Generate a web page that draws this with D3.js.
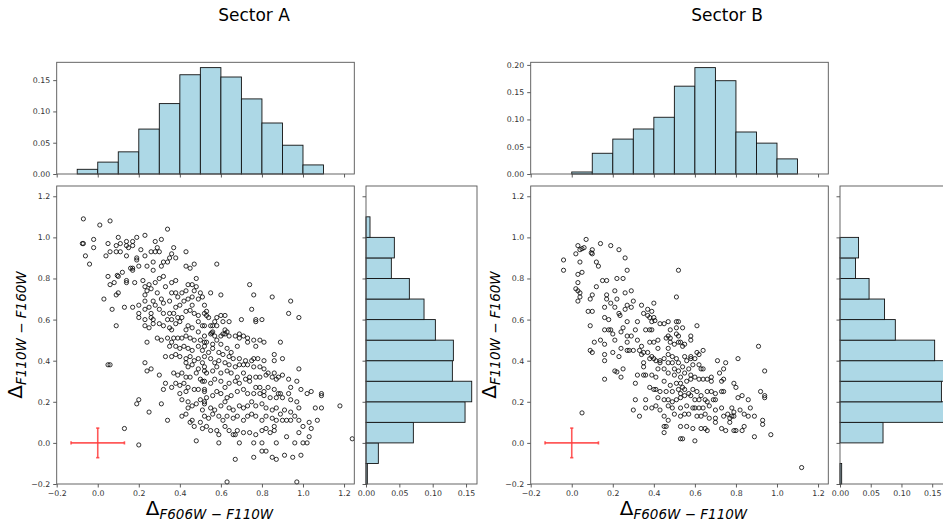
<!DOCTYPE html>
<html>
<head>
<meta charset="utf-8">
<script src="https://cdn.jsdelivr.net/npm/d3@7"></script>
<style>
  body { margin: 0; background: #fff; }
  svg { display: block; }
  text { font-family: "DejaVu Sans", sans-serif; }
</style>
</head>
<body>
<svg id="chart" width="943" height="523"></svg>
<script>
// ---- data ----
const sectorTitles = ["Sector A", "Sector B"];
const axisTicks = [-0.2, 0.0, 0.2, 0.4, 0.6, 0.8, 1.0, 1.2];
const histTicksA = [0.00, 0.05, 0.10, 0.15];
const histTicksB = [0.00, 0.05, 0.10, 0.15, 0.20];
const rightTicks = [0.00, 0.05, 0.10, 0.15];

// colour-difference histograms (fraction of stars per bin)
const topEdgesA = [-0.1, 0.0, 0.1, 0.2, 0.3, 0.4, 0.5, 0.6, 0.7, 0.8, 0.9, 1.0, 1.1];
const topFracA = [0.0075, 0.019, 0.0354, 0.0718, 0.1125, 0.1586, 0.170, 0.155, 0.120, 0.0815, 0.046, 0.0145];
const rightEdgesA = [-0.2, -0.1, 0.0, 0.1, 0.2, 0.3, 0.4, 0.5, 0.6, 0.7, 0.8, 0.9, 1.0, 1.1];
const rightFracA = [0.002, 0.0185, 0.071, 0.1485, 0.1585, 0.1295, 0.131, 0.104, 0.087, 0.065, 0.038, 0.0425, 0.006];

const topEdgesB = [0.0, 0.1, 0.2, 0.3, 0.4, 0.5, 0.6, 0.7, 0.8, 0.9, 1.0, 1.1];
const topFracB = [0.0037, 0.038, 0.064, 0.0825, 0.104, 0.161, 0.195, 0.171, 0.077, 0.0566, 0.0277];
const rightEdgesB = [-0.2, -0.1, 0.0, 0.1, 0.2, 0.3, 0.4, 0.5, 0.6, 0.7, 0.8, 0.9, 1.0];
const rightFracB = [0.0027, 0.0, 0.070, 0.170, 0.165, 0.172, 0.154, 0.090, 0.0725, 0.0473, 0.0253, 0.0302];

// typical measurement error (x, y) drawn at the origin
const errX = 0.13;
const errY = 0.072;

// stars: [Δ(F606W−F110W), Δ(F110W−F160W)]
const starsA = [
  [-0.07,1.09],[0.01,1.06],[0.06,1.08],[0.34,1.04],[-0.07,0.97],[-0.075,0.97],[-0.02,0.99],[-0.02,0.95],[-0.06,0.91],[-0.04,0.87],
  [0.05,0.97],[0.10,1.00],[0.09,0.96],[0.11,0.97],[0.14,0.98],[0.14,0.96],[0.17,0.98],[0.19,1.00],[0.23,1.01],[0.28,0.98],
  [0.31,0.99],[0.29,0.95],[0.21,0.94],[0.15,0.95],[0.17,0.96],[0.11,0.93],[0.09,0.93],[0.06,0.93],[0.04,0.91],[0.14,0.91],
  [0.19,0.90],[0.19,0.89],[0.23,0.91],[0.26,0.93],[0.28,0.93],[0.30,0.93],[0.36,0.92],[0.37,0.95],[0.38,0.90],[0.35,0.90],
  [0.32,0.88],[0.31,0.86],[0.34,0.88],[0.43,0.93],[0.47,0.87],[0.45,0.85],[0.43,0.86],[0.20,0.86],[0.17,0.85],[0.16,0.85],
  [0.24,0.86],[0.27,0.84],[0.27,0.88],[0.05,0.81],[0.10,0.81],[0.095,0.815],[0.12,0.83],[0.17,0.84],[0.14,0.79],[0.14,0.78],
  [0.18,0.78],[0.08,0.78],[0.06,0.77],[0.10,0.73],[0.09,0.72],[0.03,0.70],[0.07,0.65],[0.13,0.66],[0.17,0.66],[0.20,0.67],
  [0.20,0.63],[0.23,0.65],[0.23,0.69],[0.23,0.72],[0.24,0.74],[0.23,0.76],[0.22,0.79],[0.25,0.77],[0.26,0.75],[0.28,0.78],
  [0.32,0.81],[0.30,0.80],[0.29,0.73],[0.31,0.70],[0.27,0.69],[0.28,0.67],[0.32,0.68],[0.35,0.69],[0.33,0.76],[0.36,0.78],
  [0.38,0.79],[0.36,0.73],[0.38,0.73],[0.39,0.71],[0.41,0.73],[0.43,0.74],[0.44,0.77],[0.46,0.77],[0.48,0.80],[0.48,0.76],
  [0.50,0.73],[0.47,0.74],[0.46,0.71],[0.42,0.69],[0.44,0.70],[0.46,0.67],[0.49,0.70],[0.51,0.71],[0.52,0.67],[0.40,0.67],
  [0.38,0.66],[0.37,0.63],[0.35,0.63],[0.32,0.63],[0.30,0.65],[0.26,0.63],[0.25,0.66],[0.43,0.64],[0.45,0.645],[0.47,0.63],
  [0.49,0.62],[0.52,0.63],[0.09,0.57],[0.23,0.57],[0.25,0.56],[0.27,0.58],[0.30,0.58],[0.32,0.57],[0.35,0.56],[0.36,0.55],
  [0.38,0.58],[0.40,0.59],[0.43,0.55],[0.44,0.57],[0.46,0.56],[0.49,0.59],[0.49,0.54],[0.51,0.57],[0.27,0.60],[0.26,0.61],
  [0.23,0.60],[0.20,0.61],[0.34,0.60],[0.36,0.60],[0.39,0.61],[0.41,0.61],
  [0.58,0.87],[0.74,0.77],[0.55,0.73],[0.60,0.72],[0.76,0.72],[0.85,0.71],[0.94,0.69],[0.75,0.65],[0.93,0.63],[0.98,0.61],
  [0.53,0.64],[0.53,0.62],[0.54,0.61],[0.58,0.61],[0.60,0.62],[0.62,0.62],[0.70,0.60],[0.77,0.60],[0.77,0.59],[0.80,0.60],
  [0.57,0.59],[0.61,0.59],[0.64,0.59],[0.52,0.57],[0.55,0.57],[0.56,0.57],[0.58,0.57],[0.62,0.55],[0.63,0.54],[0.56,0.54],
  [0.555,0.535],[0.61,0.53],[0.69,0.53],
  [0.24,0.49],[0.29,0.51],[0.31,0.50],[0.34,0.51],[0.36,0.49],[0.37,0.51],[0.39,0.51],[0.41,0.51],[0.43,0.52],[0.45,0.51],
  [0.47,0.50],[0.50,0.50],[0.52,0.49],[0.35,0.47],[0.38,0.47],[0.40,0.46],[0.42,0.47],[0.44,0.46],[0.46,0.45],[0.49,0.47],
  [0.51,0.45],[0.33,0.42],[0.36,0.42],[0.38,0.43],[0.40,0.42],[0.43,0.41],[0.45,0.42],[0.47,0.40],[0.49,0.41],[0.51,0.39],
  [0.43,0.39],[0.44,0.37],[0.46,0.38],[0.49,0.36],[0.52,0.35],[0.23,0.39],[0.24,0.35],[0.26,0.36],[0.30,0.33],[0.37,0.34],
  [0.39,0.33],[0.41,0.34],[0.43,0.32],[0.45,0.32],[0.48,0.34],[0.50,0.31],[0.51,0.30],[0.33,0.29],[0.36,0.27],[0.38,0.29],
  [0.40,0.28],[0.42,0.29],[0.44,0.27],[0.47,0.26],[0.49,0.26],[0.52,0.25],[0.32,0.26],[0.40,0.24],[0.43,0.25],[0.06,0.38],
  [0.05,0.38],[0.19,0.19],[0.20,0.21],[0.31,0.19],[0.41,0.21],[0.44,0.20],[0.46,0.18],[0.48,0.19],[0.50,0.21],[0.52,0.20],
  [0.44,0.17],[0.43,0.14],[0.41,0.13],[0.51,0.16],[0.34,0.11],[0.46,0.11],[0.45,0.10],[0.47,0.08],[0.50,0.10],[0.51,0.07],
  [0.13,0.07],[0.20,-0.01],[0.48,0.01],[0.25,0.15],
  [0.52,0.52],[0.55,0.53],[0.57,0.52],[0.60,0.52],[0.62,0.53],[0.64,0.52],[0.67,0.52],[0.69,0.51],[0.71,0.52],[0.73,0.51],
  [0.76,0.50],[0.79,0.50],[0.81,0.49],[0.89,0.49],[0.86,0.43],[0.90,0.41],[0.77,0.47],[0.73,0.49],[0.68,0.47],[0.65,0.44],
  [0.63,0.46],[0.60,0.48],[0.58,0.50],[0.56,0.48],[0.53,0.49],[0.52,0.47],[0.54,0.44],[0.56,0.46],[0.59,0.44],[0.61,0.43],
  [0.64,0.42],[0.66,0.41],[0.69,0.41],[0.72,0.40],[0.75,0.40],[0.76,0.41],[0.78,0.41],[0.81,0.40],[0.86,0.40],[0.52,0.42],
  [0.55,0.41],[0.57,0.39],[0.59,0.40],[0.62,0.39],[0.64,0.38],[0.67,0.37],[0.69,0.38],[0.71,0.38],[0.73,0.38],[0.76,0.37],
  [0.79,0.37],[0.81,0.36],[0.83,0.34],[0.86,0.34],[0.88,0.32],[0.90,0.33],[0.93,0.31],[0.98,0.36],[0.97,0.30],[0.94,0.27],
  [0.87,0.31],[0.85,0.32],[0.82,0.33],[0.79,0.32],[0.77,0.32],[0.74,0.32],[0.71,0.34],[0.68,0.32],[0.65,0.34],[0.63,0.35],
  [0.60,0.34],[0.58,0.37],[0.56,0.35],[0.53,0.34],[0.52,0.37],[0.52,0.30],[0.55,0.29],[0.57,0.31],[0.60,0.30],[0.62,0.27],
  [0.64,0.29],[0.67,0.30],[0.69,0.29],[0.72,0.31],[0.74,0.30],[0.77,0.27],[0.79,0.27],[0.81,0.25],[0.83,0.27],[0.86,0.26],
  [0.88,0.24],[0.90,0.22],[0.93,0.24],[0.94,0.21],[0.97,0.20],[1.02,0.24],[1.04,0.25],[1.09,0.24],[1.09,0.23],[0.99,0.26],
  [0.89,0.24],[0.87,0.22],[0.84,0.22],[0.81,0.23],[0.79,0.24],[0.76,0.24],[0.73,0.24],[0.71,0.26],[0.68,0.25],[0.65,0.23],
  [0.63,0.22],[0.60,0.24],[0.58,0.25],[0.56,0.23],[0.53,0.22],[0.52,0.26],[0.52,0.19],[0.55,0.17],[0.57,0.16],[0.60,0.18],
  [0.62,0.20],[0.64,0.17],[0.66,0.16],[0.69,0.18],[0.71,0.17],[0.73,0.18],[0.75,0.20],[0.77,0.18],[0.80,0.19],[0.82,0.17],
  [0.85,0.16],[0.87,0.17],[0.89,0.14],[0.91,0.16],[0.94,0.15],[0.96,0.13],[0.98,0.17],[1.03,0.10],[1.06,0.17],[1.09,0.17],
  [1.18,0.18],[1.07,0.11],[1.00,0.08],[0.98,0.11],[0.94,0.11],[0.92,0.11],[0.90,0.11],[0.87,0.11],[0.85,0.12],[0.82,0.13],
  [0.80,0.11],[0.77,0.13],[0.75,0.14],[0.73,0.13],[0.71,0.11],[0.68,0.13],[0.66,0.12],[0.63,0.13],[0.61,0.11],[0.59,0.13],
  [0.56,0.14],[0.54,0.12],[0.52,0.13],[0.53,0.08],[0.55,0.06],[0.58,0.06],[0.59,0.04],[0.62,0.08],[0.64,0.06],[0.66,0.04],
  [0.68,0.06],[0.71,0.05],[0.74,0.05],[0.77,0.04],[0.80,0.06],[0.82,0.07],[0.86,0.08],[0.86,0.06],[0.92,0.03],[0.98,0.05],
  [1.02,0.00],[1.03,0.03],[1.04,0.07],[0.96,0.00],[1.00,0.00],[0.87,0.00],[0.80,0.00],[0.76,0.00],[0.69,0.00],[0.67,0.04],
  [0.59,0.00],[0.84,0.05],[0.67,-0.08],[0.76,-0.07],[0.80,-0.04],[0.82,-0.04],[0.85,-0.07],[0.87,-0.08],[0.91,-0.06],[0.95,-0.07],
  [0.99,-0.06],[0.63,-0.19],[0.97,-0.19],[1.24,0.02]
];

const starsB = [
  [0.07,0.99],[0.03,0.96],[0.04,0.94],[0.06,0.95],[0.05,0.945],[0.10,0.94],[0.10,0.92],[0.095,0.925],[0.14,0.97],[0.19,0.96],
  [0.23,0.94],[0.02,0.92],[-0.04,0.89],[-0.04,0.84],[0.04,0.88],[0.12,0.88],[0.13,0.86],[0.26,0.90],[0.27,0.84],[0.03,0.82],
  [0.05,0.83],[0.15,0.79],[0.17,0.79],[0.22,0.80],[0.25,0.80],[0.03,0.78],[0.12,0.76],[0.02,0.75],[0.03,0.74],[0.04,0.73],
  [0.04,0.71],[0.03,0.69],[0.10,0.72],[0.09,0.70],[0.21,0.74],[0.26,0.73],[0.29,0.74],[0.17,0.72],[0.17,0.70],[0.22,0.70],
  [0.19,0.68],[0.30,0.69],[0.16,0.66],[0.21,0.66],[0.27,0.67],[0.29,0.66],[0.23,0.63],[0.235,0.62],[0.26,0.65],[0.34,0.67],
  [0.37,0.65],[0.40,0.68],[0.39,0.64],[0.35,0.63],[0.37,0.62],[0.38,0.61],[0.40,0.61],[0.39,0.59],[0.405,0.595],[0.08,0.64],
  [0.10,0.64],[0.16,0.61],[0.18,0.60],[0.27,0.59],[0.32,0.59],[0.09,0.57],[0.16,0.55],[0.18,0.55],[0.19,0.55],[0.20,0.53],
  [0.25,0.56],[0.31,0.55],[0.36,0.55],[0.38,0.55],[0.39,0.55],[0.27,0.52],[0.29,0.52],[0.24,0.54],[0.11,0.49],[0.14,0.50],
  [0.16,0.48],[0.21,0.50],[0.27,0.49],[0.32,0.50],[0.34,0.47],[0.38,0.49],[0.40,0.49],[0.09,0.45],[0.10,0.44],[0.16,0.43],
  [0.16,0.40],[0.20,0.44],[0.23,0.42],[0.24,0.46],[0.27,0.45],[0.28,0.45],[0.30,0.45],[0.33,0.45],[0.34,0.43],[0.35,0.44],
  [0.37,0.44],[0.38,0.41],[0.39,0.42],[0.40,0.41],[0.35,0.39],[0.35,0.37],[0.25,0.36],[0.21,0.35],[0.22,0.345],[0.32,0.33],
  [0.35,0.33],[0.36,0.33],[0.39,0.33],[0.16,0.31],[0.24,0.32],[0.31,0.29],[0.38,0.27],[0.40,0.26],[0.31,0.21],[0.36,0.21],
  [0.05,0.146],[0.30,0.16],[0.33,0.13],[0.36,0.17],[0.39,0.17],[0.52,0.84],[0.51,0.71],[1.12,-0.12],
  [0.43,0.58],[0.45,0.58],[0.47,0.59],[0.51,0.59],[0.52,0.59],[0.51,0.56],[0.54,0.56],[0.61,0.57],[0.48,0.55],[0.47,0.52],
  [0.48,0.51],[0.46,0.51],[0.51,0.53],[0.52,0.52],[0.58,0.52],[0.58,0.50],[0.42,0.50],[0.48,0.49],[0.50,0.48],[0.52,0.49],
  [0.53,0.49],[0.55,0.48],[0.54,0.47],[0.42,0.46],[0.47,0.46],[0.64,0.45],[0.61,0.44],[0.62,0.43],[0.55,0.42],[0.58,0.42],
  [0.58,0.41],[0.60,0.41],[0.56,0.40],[0.47,0.43],[0.49,0.42],[0.51,0.41],[0.41,0.40],[0.43,0.40],[0.45,0.41],[0.43,0.39],
  [0.47,0.39],[0.49,0.39],[0.52,0.39],[0.59,0.38],[0.62,0.38],[0.63,0.36],[0.64,0.36],[0.42,0.36],[0.45,0.36],[0.47,0.34],
  [0.50,0.36],[0.52,0.35],[0.54,0.37],[0.57,0.36],[0.71,0.40],[0.75,0.39],[0.81,0.41],[0.91,0.47],[0.74,0.36],[0.72,0.34],
  [0.74,0.31],[0.73,0.30],[0.94,0.35],[0.41,0.32],[0.45,0.30],[0.50,0.33],[0.53,0.32],[0.55,0.34],[0.58,0.33],[0.58,0.31],
  [0.60,0.32],[0.62,0.31],[0.64,0.31],[0.66,0.31],[0.68,0.32],[0.68,0.30],[0.48,0.28],[0.51,0.29],[0.53,0.29],[0.54,0.27],
  [0.56,0.30],[0.79,0.29],[0.80,0.27],[0.41,0.26],[0.43,0.25],[0.46,0.25],[0.49,0.25],[0.52,0.26],[0.53,0.24],[0.55,0.26],
  [0.57,0.24],[0.59,0.26],[0.61,0.25],[0.63,0.23],[0.66,0.25],[0.68,0.25],[0.70,0.24],[0.73,0.25],[0.74,0.25],[0.92,0.25],
  [0.94,0.23],[0.94,0.22],[0.81,0.22],[0.83,0.23],[0.86,0.21],[0.42,0.22],[0.45,0.21],[0.47,0.21],[0.49,0.20],[0.51,0.21],
  [0.53,0.22],[0.55,0.23],[0.58,0.23],[0.60,0.21],[0.62,0.21],[0.65,0.21],[0.66,0.20],[0.69,0.21],[0.70,0.21],[0.41,0.18],
  [0.43,0.16],[0.47,0.18],[0.49,0.17],[0.53,0.17],[0.56,0.18],[0.59,0.17],[0.60,0.17],[0.62,0.17],[0.64,0.17],[0.67,0.18],
  [0.70,0.16],[0.73,0.17],[0.78,0.17],[0.79,0.15],[0.82,0.16],[0.87,0.17],[0.50,0.14],[0.53,0.13],[0.55,0.14],[0.57,0.14],
  [0.61,0.13],[0.63,0.13],[0.65,0.14],[0.67,0.12],[0.70,0.12],[0.74,0.13],[0.76,0.14],[0.78,0.13],[0.77,0.12],[0.79,0.13],
  [0.84,0.14],[0.86,0.13],[0.89,0.13],[0.93,0.11],[0.93,0.09],[0.47,0.11],[0.70,0.10],[0.77,0.10],[0.45,0.13],[0.45,0.08],
  [0.46,0.08],[0.53,0.08],[0.56,0.08],[0.59,0.07],[0.63,0.07],[0.65,0.07],[0.66,0.06],[0.73,0.07],[0.75,0.06],[0.79,0.06],
  [0.80,0.06],[0.84,0.08],[0.83,0.06],[0.45,0.05],[0.53,0.02],[0.54,0.02],[0.60,0.01],[0.89,0.03],[0.97,0.04]
];

// ---- layout ----
const svg = d3.select("#chart");
const lims = [-0.2, 1.25];
const box = { w: 297.6, top: 186, bottom: 484, histTop: 62.3, histBottom: 174, gap: 11.7, rightW: 111 };
const font = "DejaVu Sans";

function styleAxis(g, keepLabels) {
  g.select(".domain").remove();
  g.attr("font-family", font).attr("font-size", 7.8);
  g.selectAll(".tick line").attr("stroke", "#333").attr("stroke-width", 0.8);
  g.selectAll(".tick text").attr("fill", "#333");
  if (!keepLabels) g.selectAll(".tick text").remove();
}

function frame(g, x0, y0, x1, y1) {
  g.append("rect").attr("x", x0).attr("y", y0).attr("width", x1 - x0).attr("height", y1 - y0)
    .attr("fill", "none").attr("stroke", "#555").attr("stroke-width", 0.9);
}

function axisLabel(g, tx, ty, rotate, sub) {
  const t = g.append("text")
    .attr("transform", `translate(${tx},${ty})` + (rotate ? " rotate(-90)" : ""))
    .attr("text-anchor", "middle").attr("fill", "#000");
  t.append("tspan").attr("font-size", 20).text("Δ");
  t.append("tspan").attr("font-size", 13.5).attr("font-style", "italic").attr("dy", 4).text(sub);
}

function drawPanel(cfg) {
  const g = svg.append("g");
  const x = d3.scaleLinear().domain(lims).range([cfg.left, cfg.left + box.w]);
  const y = d3.scaleLinear().domain(lims).range([box.bottom, box.top]);
  const yTop = d3.scaleLinear().domain([0, d3.max(cfg.topFrac) * 1.05]).range([box.histBottom, box.histTop]);
  const rLeft = cfg.left + box.w + box.gap;
  const xR = d3.scaleLinear().domain([0, d3.max(cfg.rightFrac) * 1.05]).range([rLeft, rLeft + box.rightW]);
  const fmt1 = d3.format(".1f"), fmt2 = d3.format(".2f");

  // title
  g.append("text").attr("x", cfg.titleX).attr("y", 21).attr("text-anchor", "middle")
    .attr("font-size", 17).attr("fill", "#000").text(cfg.title);

  // ---- top histogram ----
  g.append("g").selectAll("rect").data(cfg.topFrac).join("rect")
    .attr("x", (d, i) => x(cfg.topEdges[i]))
    .attr("width", (d, i) => x(cfg.topEdges[i + 1]) - x(cfg.topEdges[i]))
    .attr("y", d => yTop(d)).attr("height", d => yTop(0) - yTop(d))
    .attr("fill", "#add8e6").attr("stroke", "#111").attr("stroke-width", 0.9);
  styleAxis(g.append("g").attr("transform", `translate(${cfg.left},0)`)
    .call(d3.axisLeft(yTop).tickValues(cfg.topTicks).tickFormat(fmt2).tickSize(3.5).tickPadding(3)), true);
  styleAxis(g.append("g").attr("transform", `translate(0,${box.histBottom})`)
    .call(d3.axisBottom(x).tickValues(axisTicks).tickSize(3.5)), false);
  frame(g, cfg.left, box.histTop, cfg.left + box.w, box.histBottom);

  // ---- right histogram ----
  g.append("g").selectAll("rect").data(cfg.rightFrac).join("rect")
    .attr("y", (d, i) => y(cfg.rightEdges[i + 1]))
    .attr("height", (d, i) => y(cfg.rightEdges[i]) - y(cfg.rightEdges[i + 1]))
    .attr("x", xR(0)).attr("width", d => xR(d) - xR(0))
    .attr("fill", "#add8e6").attr("stroke", "#111").attr("stroke-width", 0.9);
  styleAxis(g.append("g").attr("transform", `translate(0,${box.bottom})`)
    .call(d3.axisBottom(xR).tickValues(rightTicks).tickFormat(fmt2).tickSize(3.5).tickPadding(3)), true);
  styleAxis(g.append("g").attr("transform", `translate(${rLeft},0)`)
    .call(d3.axisLeft(y).tickValues(axisTicks).tickSize(3.5)), false);
  frame(g, rLeft, box.top, rLeft + box.rightW, box.bottom);

  // ---- scatter ----
  const pts = g.append("g");
  pts.selectAll("circle").data(cfg.stars).join("circle")
    .attr("cx", d => x(d[0])).attr("cy", d => y(d[1])).attr("r", 2.1)
    .attr("fill", "none").attr("stroke", "#000").attr("stroke-opacity", 0.8).attr("stroke-width", 1.0);

  // error bar
  const eb = g.append("g").attr("stroke", "#ff3c3c").attr("stroke-opacity", 0.85).attr("stroke-width", 1.6);
  eb.append("line").attr("x1", x(-errX)).attr("x2", x(errX)).attr("y1", y(0)).attr("y2", y(0));
  eb.append("line").attr("x1", x(0)).attr("x2", x(0)).attr("y1", y(-errY)).attr("y2", y(errY));
  [-errX, errX].forEach(v => eb.append("line").attr("x1", x(v)).attr("x2", x(v)).attr("y1", y(0) - 1.6).attr("y2", y(0) + 1.6));
  [-errY, errY].forEach(v => eb.append("line").attr("y1", y(v)).attr("y2", y(v)).attr("x1", x(0) - 1.6).attr("x2", x(0) + 1.6));

  styleAxis(g.append("g").attr("transform", `translate(0,${box.bottom})`)
    .call(d3.axisBottom(x).tickValues(axisTicks).tickFormat(fmt1).tickSize(3.5).tickPadding(3)), true);
  styleAxis(g.append("g").attr("transform", `translate(${cfg.left},0)`)
    .call(d3.axisLeft(y).tickValues(axisTicks).tickFormat(fmt1).tickSize(3.5).tickPadding(3)), true);
  frame(g, cfg.left, box.top, cfg.left + box.w, box.bottom);

  axisLabel(g, cfg.left + box.w / 2 + 4, 515, false, "F606W − F110W");
  axisLabel(g, cfg.left - 35, (box.top + box.bottom) / 2, true, "F110W − F160W");
}

drawPanel({ title: sectorTitles[0], titleX: 254, left: 56.7, stars: starsA,
  topEdges: topEdgesA, topFrac: topFracA, topTicks: histTicksA,
  rightEdges: rightEdgesA, rightFrac: rightFracA });
drawPanel({ title: sectorTitles[1], titleX: 727, left: 530.7, stars: starsB,
  topEdges: topEdgesB, topFrac: topFracB, topTicks: histTicksB,
  rightEdges: rightEdgesB, rightFrac: rightFracB });
</script>
</body>
</html>
